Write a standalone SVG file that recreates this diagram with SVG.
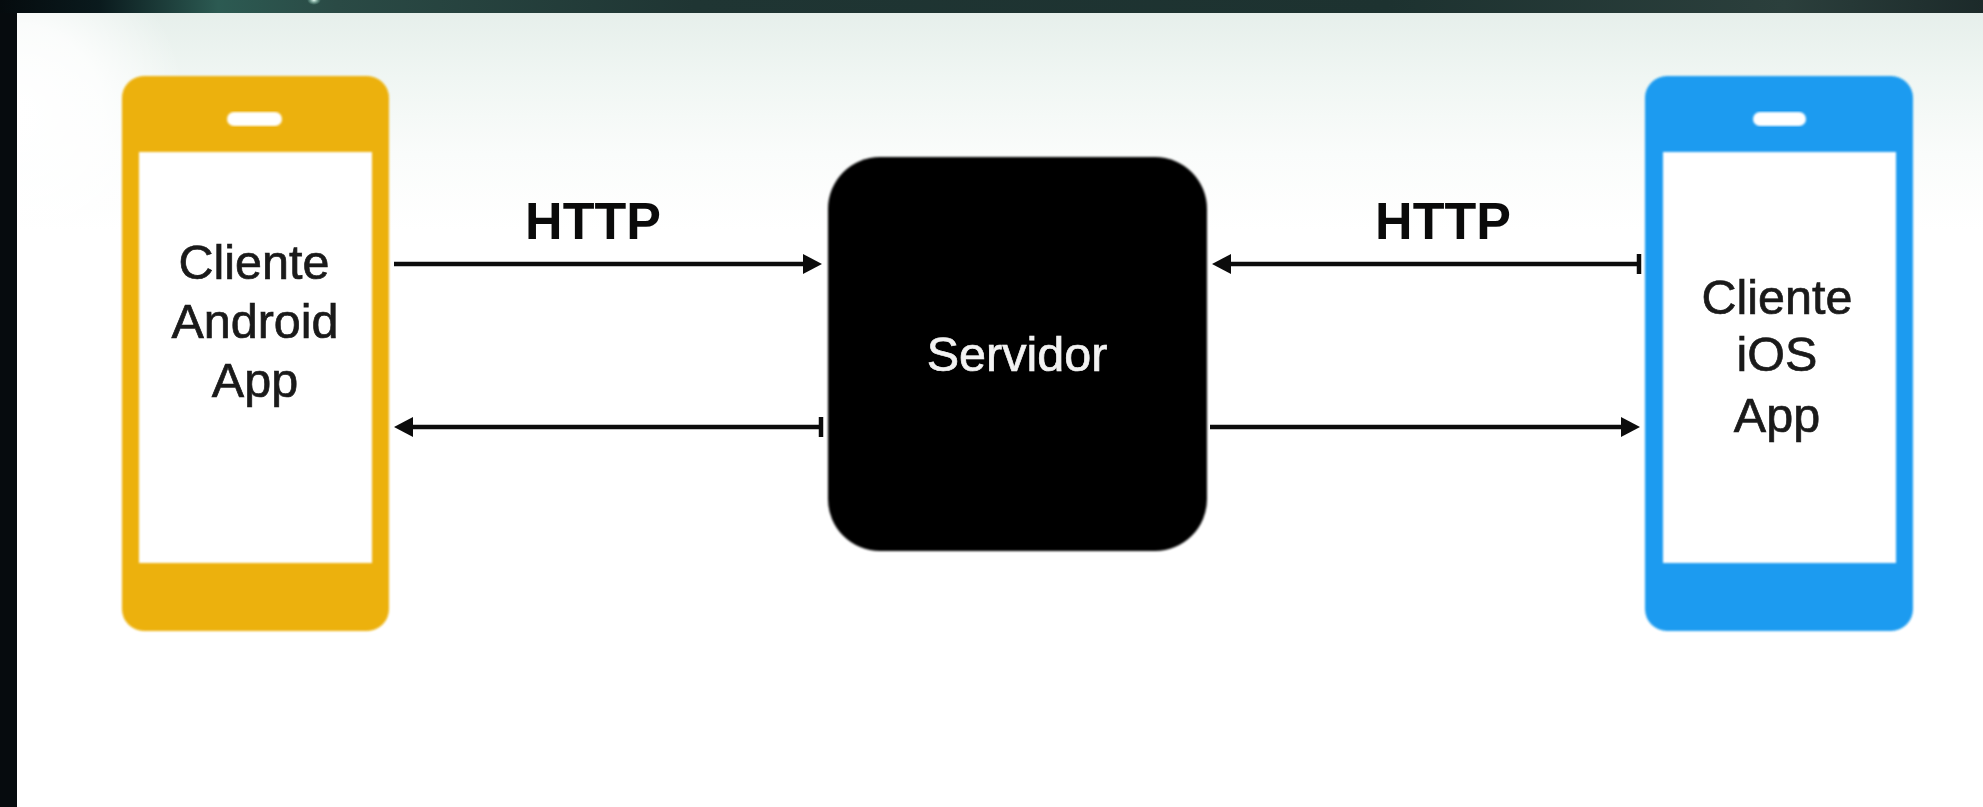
<svg xmlns="http://www.w3.org/2000/svg" width="1983" height="807" viewBox="0 0 1983 807">
<style>
.lbl{font-family:"Liberation Sans",Arial,sans-serif;font-size:48.5px;text-anchor:middle;fill:#1a1a1a;stroke:#1a1a1a;stroke-width:.7}
.light{fill:#f2f2f2;stroke:#f2f2f2}
.http{font-family:"Liberation Sans",Arial,sans-serif;font-size:52px;font-weight:700;text-anchor:middle;fill:#0a0a0a}
.conn{stroke:#0c0c0c;stroke-width:4.5;fill:none}
.bar{stroke:#0c0c0c;stroke-width:4.5}
.head{fill:#0c0c0c}
.soft{filter:url(#soft)}
</style>
<defs>
<filter id="soft" x="-5%" y="-5%" width="110%" height="110%"><feGaussianBlur stdDeviation="0.8"/></filter>
<filter id="softLine" x="0" y="-20" width="2000" height="60" filterUnits="userSpaceOnUse"><feGaussianBlur stdDeviation="0.6"/></filter>
<linearGradient id="topbar" x1="0" x2="1" y1="0" y2="0">
<stop offset="0" stop-color="#050b0e"/><stop offset="0.05" stop-color="#0a1a1d"/><stop offset="0.11" stop-color="#2c5a52"/><stop offset="0.17" stop-color="#2a4a45"/><stop offset="0.35" stop-color="#1f3533"/><stop offset="0.7" stop-color="#1d3230"/><stop offset="0.9" stop-color="#2b3f3c"/><stop offset="1" stop-color="#1c2a2a"/>
</linearGradient>
<linearGradient id="paper" x1="0" x2="0" y1="13" y2="230" gradientUnits="userSpaceOnUse">
<stop offset="0" stop-color="#e6efeb"/><stop offset="0.3" stop-color="#f0f6f3"/><stop offset="0.65" stop-color="#fafcfb"/><stop offset="1" stop-color="#ffffff"/>
</linearGradient>
<radialGradient id="corner" cx="17" cy="110" r="170" gradientUnits="userSpaceOnUse">
<stop offset="0" stop-color="#ffffff"/><stop offset="0.5" stop-color="#ffffff" stop-opacity=".8"/><stop offset="1" stop-color="#ffffff" stop-opacity="0"/>
</radialGradient>
<radialGradient id="spark"><stop offset="0" stop-color="#e8fff6"/><stop offset="1" stop-color="#8fd8c0" stop-opacity="0"/></radialGradient>
</defs>
<rect id="backdrop" width="1983" height="807" fill="#060b0e"/>
<rect id="top-strip" width="1983" height="13" fill="url(#topbar)"/>
<ellipse id="top-spark" cx="314" cy="0" rx="7" ry="5" fill="url(#spark)"/>
<rect id="sheet" x="17" y="13" width="1966" height="794" fill="#fff"/>
<rect id="sheet-tint" x="17" y="13" width="1966" height="217" fill="url(#paper)"/>
<rect id="sheet-corner" x="17" y="13" width="170" height="217" fill="url(#corner)"/>
<g id="client-android">
<rect class="soft" x="122" y="76" width="267" height="555" rx="22" fill="#ecb108"/>
<rect class="soft" x="139" y="152" width="233" height="411" fill="#fff"/>
<rect class="soft" x="227" y="112" width="55" height="14" rx="7" fill="#fff"/>
<text class="lbl" x="254" y="279">Cliente</text>
<text class="lbl" x="255" y="338">Android</text>
<text class="lbl" x="255" y="397">App</text>
</g>
<g id="server">
<rect class="soft" x="828" y="157" width="379" height="394" rx="52" fill="#000"/>
<text class="lbl light" x="1017" y="371">Servidor</text>
</g>
<g id="client-ios">
<rect class="soft" x="1645" y="76" width="268" height="555" rx="22" fill="#1a9bf0"/>
<rect class="soft" x="1663" y="152" width="233" height="411" fill="#fff"/>
<rect class="soft" x="1753" y="112" width="53" height="14" rx="7" fill="#fff"/>
<text class="lbl" x="1777" y="314">Cliente</text>
<text class="lbl" x="1777" y="371">iOS</text>
<text class="lbl" x="1777" y="432">App</text>
</g>
<g id="connectors">
<line class="conn" x1="394" y1="264" x2="806" y2="264"/>
<polygon class="head" points="822,264 803,254 803,274"/>
<line class="conn" x1="410" y1="427" x2="822" y2="427"/>
<polygon class="head" points="394,427 413,417 413,437"/>
<line class="bar" x1="821" y1="417" x2="821" y2="437"/>
<line class="conn" x1="1228" y1="264" x2="1640" y2="264"/>
<polygon class="head" points="1212,264 1231,254 1231,274"/>
<line class="bar" x1="1639" y1="254" x2="1639" y2="274"/>
<line class="conn" x1="1210" y1="427" x2="1625" y2="427"/>
<polygon class="head" points="1640,427 1621,417 1621,437"/>
</g>
<g id="labels">
<text class="http" x="593" y="239">HTTP</text>
<text class="http" x="1443" y="239">HTTP</text>
</g>
</svg>
